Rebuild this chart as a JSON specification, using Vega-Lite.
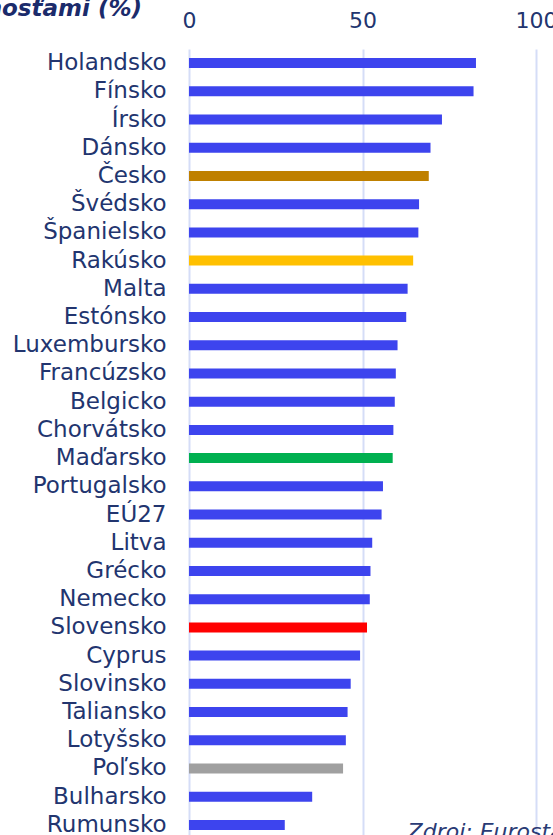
{
  "$schema": "https://vega.github.io/schema/vega-lite/v6.json",
  "autosize": "none",
  "width": 347,
  "height": 790,
  "padding": {"left": 189, "top": 49, "right": 17, "bottom": 0},
  "background": "white",
  "title": {
    "text": "digitálnymi zručnosťami (%)",
    "frame": "group",
    "anchor": "start",
    "align": "right",
    "dx": -47,
    "dy": 30,
    "orient": "top",
    "baseline": "alphabetic",
    "offset": 0,
    "font": "DejaVu Sans",
    "fontSize": 23,
    "fontWeight": "bold",
    "fontStyle": "italic",
    "color": "#1b2b6b"
  },
  "data": {
    "values": [
      {"krajina": "Holandsko", "hodnota": 82.7, "skupina": "iné"},
      {"krajina": "Fínsko", "hodnota": 82.0, "skupina": "iné"},
      {"krajina": "Írsko", "hodnota": 72.9, "skupina": "iné"},
      {"krajina": "Dánsko", "hodnota": 69.6, "skupina": "iné"},
      {"krajina": "Česko", "hodnota": 69.1, "skupina": "Česko"},
      {"krajina": "Švédsko", "hodnota": 66.3, "skupina": "iné"},
      {"krajina": "Španielsko", "hodnota": 66.1, "skupina": "iné"},
      {"krajina": "Rakúsko", "hodnota": 64.6, "skupina": "Rakúsko"},
      {"krajina": "Malta", "hodnota": 63.0, "skupina": "iné"},
      {"krajina": "Estónsko", "hodnota": 62.6, "skupina": "iné"},
      {"krajina": "Luxembursko", "hodnota": 60.1, "skupina": "iné"},
      {"krajina": "Francúzsko", "hodnota": 59.6, "skupina": "iné"},
      {"krajina": "Belgicko", "hodnota": 59.3, "skupina": "iné"},
      {"krajina": "Chorvátsko", "hodnota": 58.9, "skupina": "iné"},
      {"krajina": "Maďarsko", "hodnota": 58.7, "skupina": "Maďarsko"},
      {"krajina": "Portugalsko", "hodnota": 55.9, "skupina": "iné"},
      {"krajina": "EÚ27", "hodnota": 55.5, "skupina": "iné"},
      {"krajina": "Litva", "hodnota": 52.8, "skupina": "iné"},
      {"krajina": "Grécko", "hodnota": 52.3, "skupina": "iné"},
      {"krajina": "Nemecko", "hodnota": 52.1, "skupina": "iné"},
      {"krajina": "Slovensko", "hodnota": 51.3, "skupina": "Slovensko"},
      {"krajina": "Cyprus", "hodnota": 49.3, "skupina": "iné"},
      {"krajina": "Slovinsko", "hodnota": 46.6, "skupina": "iné"},
      {"krajina": "Taliansko", "hodnota": 45.7, "skupina": "iné"},
      {"krajina": "Lotyšsko", "hodnota": 45.2, "skupina": "iné"},
      {"krajina": "Poľsko", "hodnota": 44.4, "skupina": "Poľsko"},
      {"krajina": "Bulharsko", "hodnota": 35.5, "skupina": "iné"},
      {"krajina": "Rumunsko", "hodnota": 27.6, "skupina": "iné"}
    ]
  },
  "encoding": {
    "y": {
      "field": "krajina",
      "type": "nominal",
      "sort": null,
      "scale": {"paddingInner": 0.645, "paddingOuter": 0.3225},
      "axis": {
        "title": null,
        "ticks": false,
        "domain": false,
        "grid": false,
        "labelPadding": 23,
        "labelFont": "DejaVu Sans",
        "labelFontSize": 23,
        "labelColor": "#22356f"
      }
    },
    "x": {
      "field": "hodnota",
      "type": "quantitative",
      "scale": {"domain": [0, 100], "nice": false},
      "axis": {
        "orient": "top",
        "title": null,
        "values": [0, 50, 100],
        "ticks": false,
        "domain": false,
        "grid": true,
        "gridColor": "#d5ddf7",
        "gridWidth": 2,
        "gridOpacity": 1,
        "labelPadding": 17,
        "labelFont": "DejaVu Sans",
        "labelFontSize": 22,
        "labelColor": "#22356f",
        "labelFlush": false
      }
    }
  },
  "layer": [
    {
      "mark": {"type": "bar"},
      "encoding": {
        "color": {
          "field": "skupina",
          "type": "nominal",
          "legend": null,
          "scale": {
            "domain": ["iné", "Česko", "Rakúsko", "Maďarsko", "Slovensko", "Poľsko"],
            "range": ["#3d44ee", "#bf8000", "#ffc000", "#00b050", "#ff0000", "#a0a0a0"]
          }
        }
      }
    },
    {
      "transform": [{"filter": "datum.krajina === 'Rumunsko'"}, {"calculate": "'Zdroj: Eurostat'", "as": "zdroj"}],
      "mark": {
        "type": "text",
        "align": "left",
        "baseline": "top",
        "dy": -3,
        "font": "DejaVu Sans",
        "fontStyle": "italic",
        "fontSize": 22,
        "color": "#2a3b75"
      },
      "encoding": {
        "x": {"datum": 63},
        "text": {"field": "zdroj"}
      }
    }
  ],
  "config": {"view": {"stroke": null}}
}
